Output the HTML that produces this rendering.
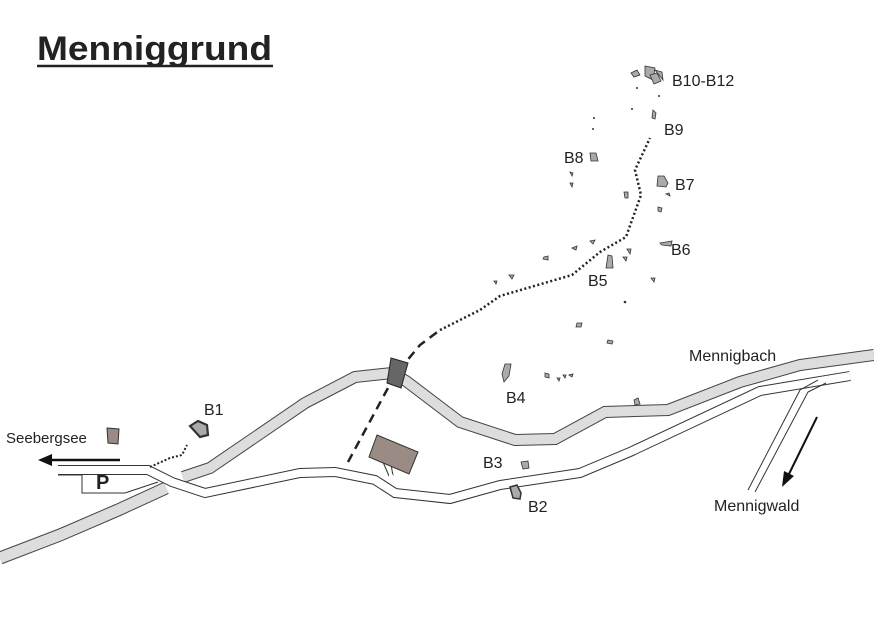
<!DOCTYPE html>
<html><head><style>
body{margin:0;background:#fff;width:874px;height:618px;overflow:hidden}
svg{display:block}
text{font-family:"Liberation Sans",sans-serif;fill:#222}
</style></head><body>
<svg width="874" height="618" viewBox="0 0 874 618">
<text x="37" y="60" font-size="34" font-weight="bold" fill="#222" textLength="235" lengthAdjust="spacingAndGlyphs">Menniggrund</text>
<line x1="37" y1="66" x2="273" y2="66" stroke="#222" stroke-width="2.5"/>

<!-- stream -->
<g fill="none" stroke-linejoin="miter">
<polyline points="0,558 60,535 118,510 166,488" stroke="#444" stroke-width="13"/>
<polyline points="0,558 60,535 118,510 166,488" stroke="#ddd" stroke-width="11"/>
<polyline points="183,477 210,468 305,403 355,377 392,373 406,381 460,422 515,440 555,439 605,412 668,410 740,382 800,365 874,355" stroke="#444" stroke-width="12"/>
<polyline points="183,477 210,468 305,403 355,377 392,373 406,381 460,422 515,440 555,439 605,412 668,410 740,382 800,365 874,355" stroke="#ddd" stroke-width="10"/>
</g>

<!-- road -->
<g fill="none">
<polyline points="58,470 148,470 172,482 205,493 300,473 335,472 375,480 395,493 450,499 500,485 580,473 630,452 760,391 850,376" stroke="#333" stroke-width="10"/>
<polyline points="58,470 148,470 172,482 205,493 300,473 335,472 375,480 395,493 450,499 500,485 580,473 630,452 760,391 850,376" stroke="#fff" stroke-width="8"/>
<polyline points="58,475 82,475 82,493 125,493 158,482" stroke="#333" stroke-width="1"/>
<line x1="383" y1="462" x2="389" y2="476" stroke="#333" stroke-width="1"/>
<line x1="391" y1="464" x2="393" y2="476" stroke="#333" stroke-width="1"/>
<line x1="389" y1="476" x2="393" y2="476" stroke="#fff" stroke-width="3"/>
<polyline points="818,380 800,390 748,490" stroke="#333" stroke-width="1"/>
<polyline points="826,383 808,392 755,492" stroke="#333" stroke-width="1"/>
</g>
<rect x="40" y="462" width="18" height="16" fill="#fff"/>
<line x1="120" y1="460" x2="48" y2="460" stroke="#111" stroke-width="2.5"/>
<polygon points="38,460 52,454 52,466" fill="#111"/>
<text x="96" y="489" font-size="20" font-weight="bold">P</text>

<!-- paths -->
<polyline points="348,462 395,375 420,345 440,330" fill="none" stroke="#222" stroke-width="2.5" stroke-dasharray="9,6"/>
<polyline points="440,330 480,310 500,296 572,275 600,252 626,237 641,195 635,170 650,138" fill="none" stroke="#222" stroke-width="2.5" stroke-dasharray="2,2.5"/>
<polyline points="150,467 170,458 182,455 187,445" fill="none" stroke="#222" stroke-width="2" stroke-dasharray="2,2"/>

<!-- buildings -->
<polygon points="377,435 418,452 409,474 369,457" fill="#9a8b85" stroke="#333"/>
<polygon points="391,358 408,363 401,388 387,383" fill="#666" stroke="#222"/>
<polygon points="107,428 119,429 118,444 108,443" fill="#9a8b85" stroke="#333"/>

<!-- boulders -->
<g fill="#aaa" stroke="#333" stroke-width="0.8">
<polygon points="190,426 198,421 207,425 208,435 200,437" stroke-width="2.2"/>
<polygon points="510,487 517,485 521,493 520,499 513,498" stroke-width="1.5"/>
<polygon points="521,462 528,461 529,468 523,469"/>
<polygon points="505,364 511,364 509,376 504,382 502,374"/>
<polygon points="634,400 638,398 640,404 635,405"/>
<polygon points="608,255 612,256 613,268 606,268"/>
<polygon points="660,243 672,241 671,246 662,245"/>
<polygon points="658,176 664,176 668,183 666,187 657,186"/>
<polygon points="590,153 596,153 598,161 591,161"/>
<polygon points="653,110 656,113 655,119 652,118"/>
<polygon points="631,73 637,70 640,75 634,77"/>
<polygon points="645,66 655,68 653,80 645,76"/>
<polygon points="650,75 657,73 661,81 654,84"/>
<polygon points="655,70 662,72 663,80"/>
<polygon points="544,257 548,256 548,260 543,259"/>
<polygon points="509,275 514,275 512,279"/>
<polygon points="577,323 582,323 581,327 576,327"/>
<polygon points="608,340 613,341 612,344 607,343"/>
<polygon points="545,373 549,374 549,378 545,377"/>
<polygon points="624,192 628,192 628,198 625,198"/>
<polygon points="658,207 662,208 661,212 658,211"/>
<polygon points="666,194 669,193 670,196"/>
<polygon points="570,172 573,173 572,176"/>
<polygon points="570,183 573,183 572,187"/>
<polygon points="590,241 595,240 593,244"/>
<polygon points="572,248 577,246 576,250"/>
<polygon points="627,249 631,249 630,254"/>
<polygon points="623,257 627,257 626,261"/>
<polygon points="651,278 655,278 654,282"/>
<polygon points="494,281 497,281 496,284"/>
<polygon points="557,378 560,378 559,381"/>
<polygon points="563,375 566,375 565,378"/>
<polygon points="569,375 573,374 572,377"/>
</g>
<g fill="#333">
<circle cx="637" cy="88" r="1"/><circle cx="632" cy="109" r="1"/><circle cx="594" cy="118" r="1"/><circle cx="593" cy="129" r="1"/><circle cx="659" cy="96" r="1"/><circle cx="625" cy="302" r="1.3"/>
</g>

<!-- labels -->
<g font-size="16">
<text x="672" y="86">B10-B12</text>
<text x="664" y="135">B9</text>
<text x="564" y="163">B8</text>
<text x="675" y="190">B7</text>
<text x="671" y="255">B6</text>
<text x="588" y="286">B5</text>
<text x="506" y="403">B4</text>
<text x="483" y="468">B3</text>
<text x="528" y="512">B2</text>
<text x="204" y="415">B1</text>
<text x="6" y="443" font-size="15">Seebergsee</text>
<text x="689" y="361">Mennigbach</text>
<text x="714" y="511">Mennigwald</text>
</g>
<line x1="817" y1="417" x2="788" y2="476" stroke="#111" stroke-width="2"/>
<polygon points="782,487 784,471 794,476" fill="#111"/>
</svg>
</body></html>
